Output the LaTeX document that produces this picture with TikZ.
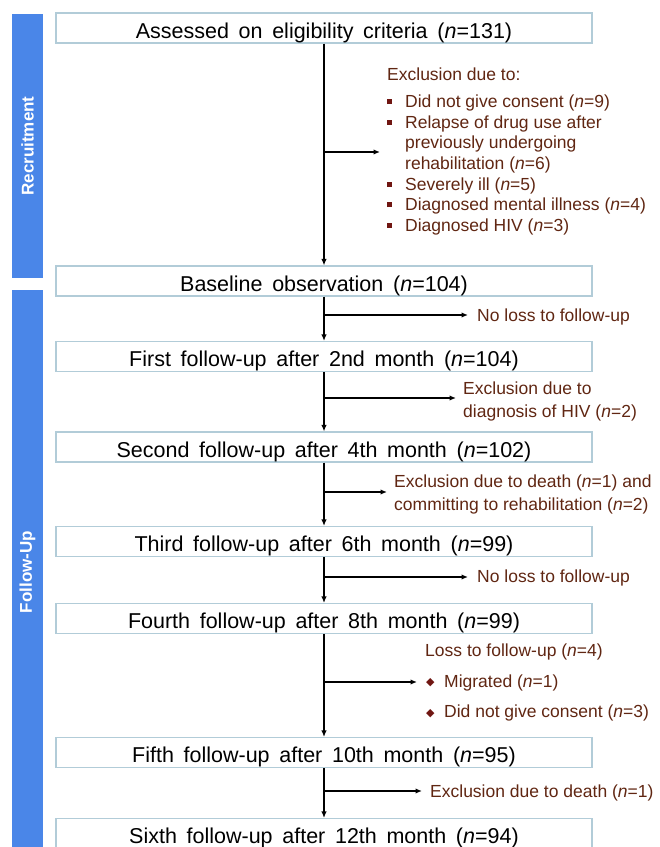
\documentclass[tikz,border=0pt]{standalone}
\usepackage{fontspec}
\setmainfont{Liberation Sans}
\newfontfamily\dejavu{DejaVu Sans}
\usetikzlibrary{arrows.meta,calc}
\definecolor{barblue}{RGB}{74,134,232}
\definecolor{boxline}{RGB}{178,204,216}
\definecolor{brn}{RGB}{96,38,18}
\definecolor{bul}{RGB}{112,22,18}
\newcommand{\sqbul}{\makebox[18pt][l]{\textcolor{bul}{\rule[3.5pt]{5pt}{5pt}}}}
\newcommand{\dmbul}{\makebox[19pt][l]{\hspace{1pt}\raisebox{1.5pt}{\textcolor{bul}{\dejavu\fontsize{11}{11}\selectfont ◆}}}}
\newcommand{\nn}{\textit{n}}
\newcommand{\mainfnt}{\fontsize{21.5}{25}\selectfont\spaceskip=0.45em plus 0.1em\relax}
\tikzset{
  mainbox/.style={draw=boxline, line width=1.1pt, fill=white, minimum width=536pt, minimum height=30pt,
    inner sep=0pt, text height=20.3pt, text depth=0pt, font=\mainfnt},
  sidetxt/.style={text=brn, inner sep=0pt, align=left, font=\fontsize{17.5}{23}\selectfont},
  barlabel/.style={rotate=90, text=white, font=\bfseries\fontsize{17}{20}\selectfont},
  arr/.style={line width=1.6pt, -{Latex[length=6.5pt,width=5.5pt]}},
  seg/.style={line width=1.6pt}
}
\begin{document}
\begin{tikzpicture}[x=1pt,y=-1pt]
\useasboundingbox (0,0) rectangle (660,847);
\clip (0,0) rectangle (660,847);
% side bars
\fill[barblue] (12,14) rectangle (43,278);
\fill[barblue] (12,290) rectangle (43,852);
\node[barlabel] (lrec) at (27.5,146) {Recruitment};
\node[barlabel] (lfol) at (27.5,572) {Follow-Up};
% main boxes
\node[mainbox] (b1) at (324,28) {Assessed on eligibility criteria (\nn=131)};
\node[mainbox] (b2) at (324,281) {Baseline observation (\nn=104)};
\node[mainbox] (b3) at (324,356.5) {First follow-up after 2nd month (\nn=104)};
\node[mainbox] (b4) at (324,447) {Second follow-up after 4th month (\nn=102)};
\node[mainbox] (b5) at (324,541.5) {Third follow-up after 6th month (\nn=99)};
\node[mainbox] (b6) at (324,618.5) {Fourth follow-up after 8th month (\nn=99)};
\node[mainbox] (b7) at (324,752.5) {Fifth follow-up after 10th month (\nn=95)};
\node[mainbox] (b8) at (324,833.5) {Sixth follow-up after 12th month (\nn=94)};
% vertical arrows
\draw[arr] (b1.south) -- (b2.north);
\draw[arr] (b2.south) -- (b3.north);
\draw[arr] (b3.south) -- (b4.north);
\draw[arr] (b4.south) -- (b5.north);
\draw[arr] (b5.south) -- (b6.north);
\draw[arr] (b6.south) -- (b7.north);
\draw[arr] (b7.south) -- (b8.north);
% side texts
\node[sidetxt, anchor=north west, font=\fontsize{17.5}{20.6}\selectfont] (e1) at (387,67.7)
  {Exclusion due to:\\[6.5pt]
   \sqbul Did not give consent (\nn=9)\\
   \sqbul Relapse of drug use after\\
   \hphantom{\sqbul}previously undergoing\\
   \hphantom{\sqbul}rehabilitation (\nn=6)\\
   \sqbul Severely ill (\nn=5)\\
   \sqbul Diagnosed mental illness (\nn=4)\\
   \sqbul Diagnosed HIV (\nn=3)};
\node[sidetxt, anchor=base west] (e2) at (477,321.5) {No loss to follow-up};
\node[sidetxt, anchor=north west] (e3) at (463,381.7) {Exclusion due to\\diagnosis of HIV (\nn=2)};
\node[sidetxt, anchor=north west] (e4) at (394,474.7) {Exclusion due to death (\nn=1) and\\committing to rehabilitation (\nn=2)};
\node[sidetxt, anchor=base west] (e5) at (477,582.5) {No loss to follow-up};
\node[sidetxt, anchor=north west, font=\fontsize{17.5}{30.5}\selectfont] (e6) at (425,643.7)
  {Loss to follow-up (\nn=4)\\
   \dmbul Migrated (\nn=1)\\
   \dmbul Did not give consent (\nn=3)};
\node[sidetxt, anchor=base west] (e7) at (430,797.5) {Exclusion due to death (\nn=1)};
% junctions and branch arrows
\coordinate (j1) at (324,152);
\coordinate (j2) at (324,315);
\coordinate (j3) at (324,398);
\coordinate (j4) at (324,492);
\coordinate (j5) at (324,577);
\coordinate (j6) at (324,682);
\coordinate (j7) at (324,791);
\draw[arr] (j1) -- ([xshift=-7pt]e1.west |- j1);
\draw[arr] (j2) -- ([xshift=-9pt]e2.west |- j2);
\draw[arr] (j3) -- ([xshift=-7pt]e3.west |- j3);
\draw[arr] (j4) -- ([xshift=-7pt]e4.west |- j4);
\draw[arr] (j5) -- ([xshift=-9pt]e5.west |- j5);
\draw[arr] (j6) -- ([xshift=-8pt]e6.west |- j6);
\draw[arr] (j7) -- ([xshift=-8pt]e7.west |- j7);
\end{tikzpicture}
\end{document}
